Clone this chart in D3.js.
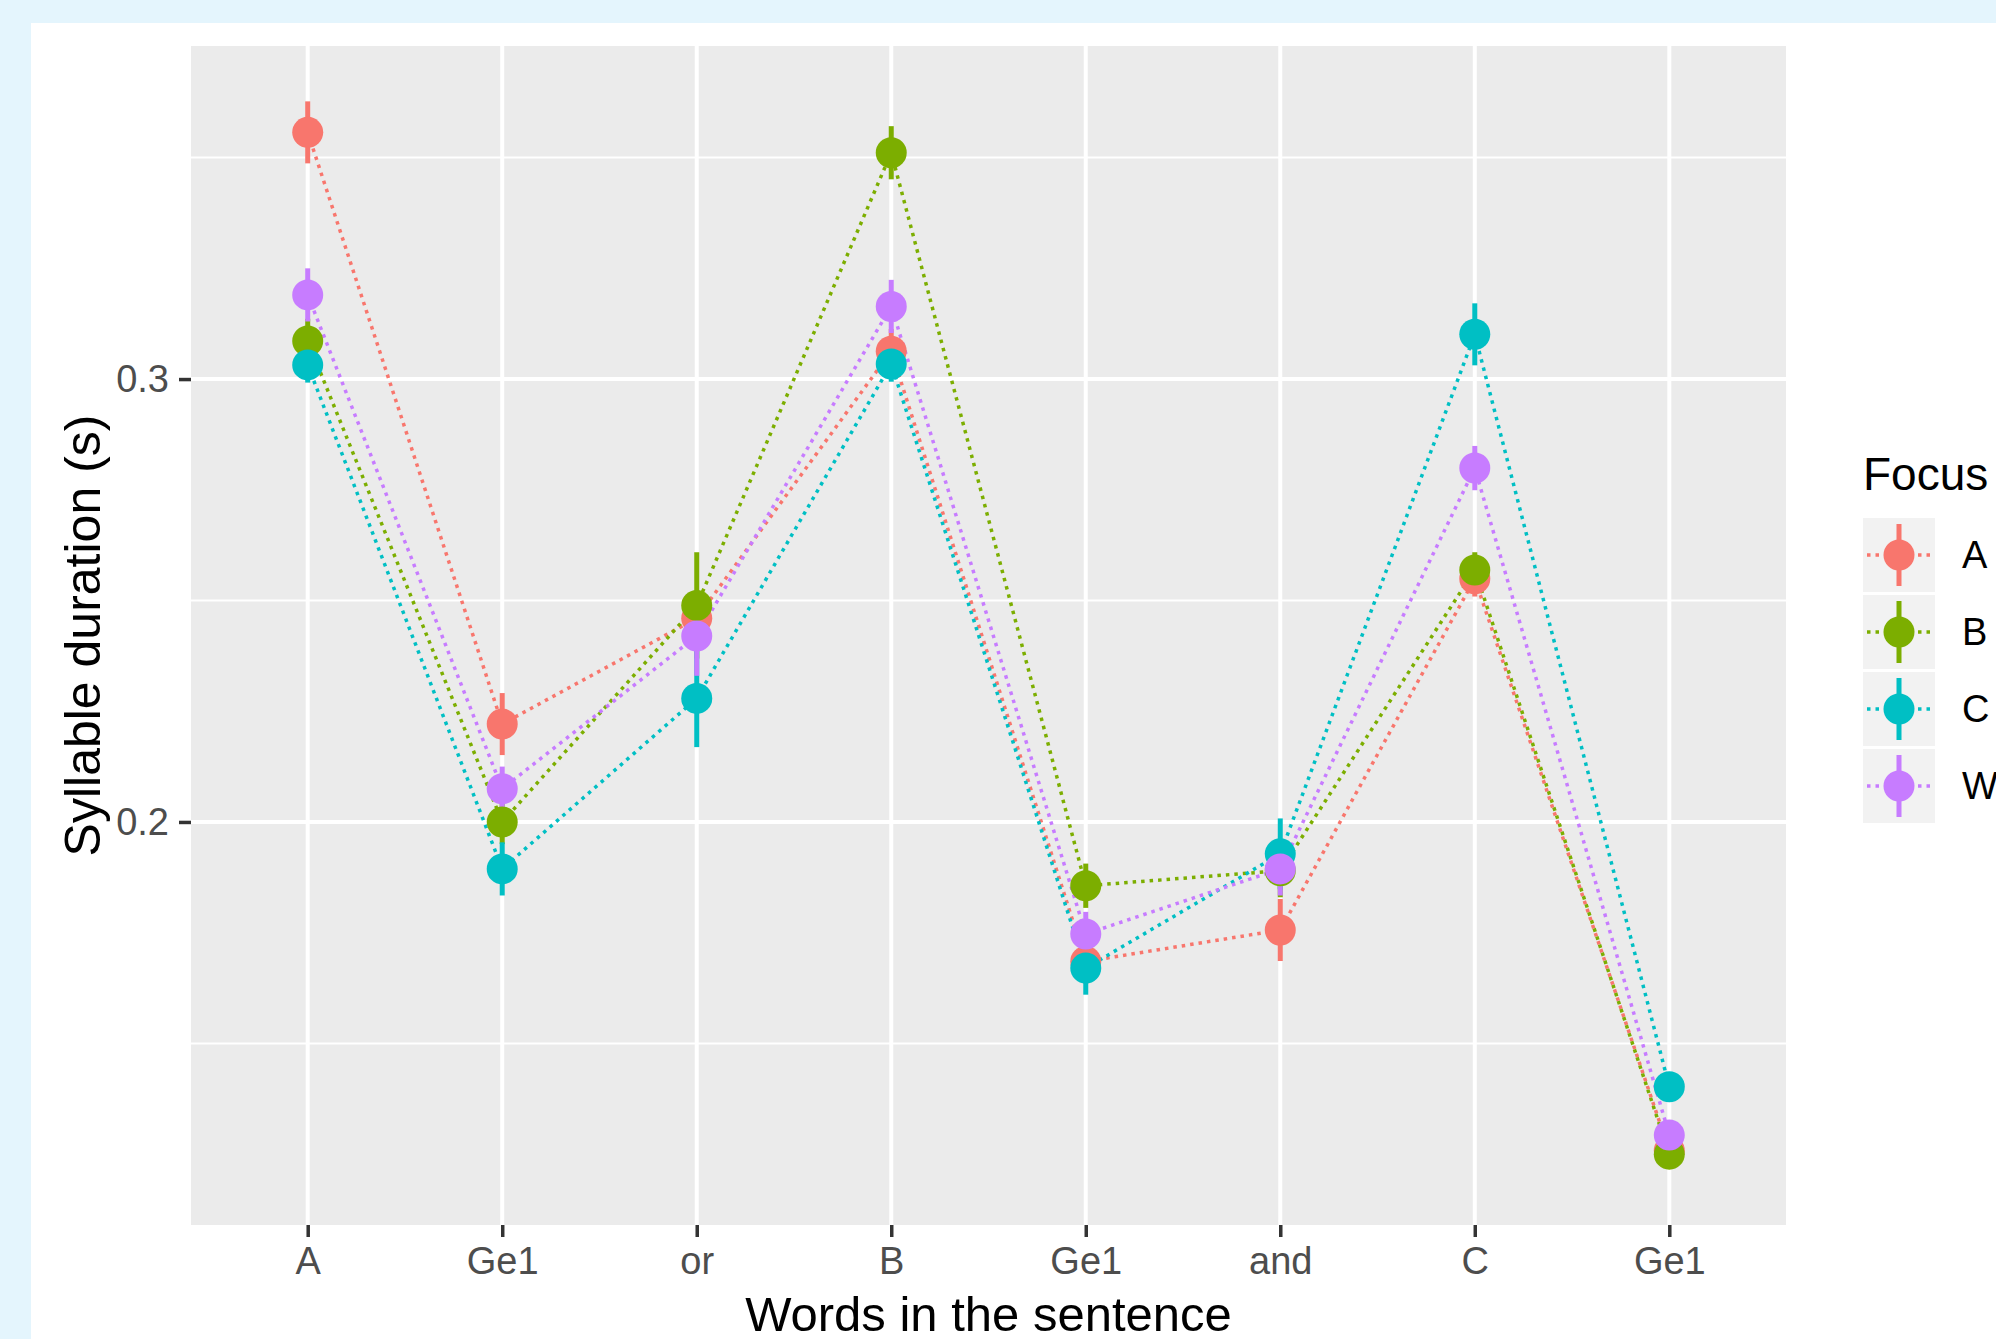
<!DOCTYPE html>
<html>
<head>
<meta charset="utf-8">
<script src="https://cdn.jsdelivr.net/npm/d3@7"></script>
<style>
  html, body { margin: 0; padding: 0; background: #e4f5fd; }
  svg { display: block; }
  text { font-family: "Liberation Sans", Arial, Helvetica, sans-serif; }
</style>
</head>
<body>
<svg id="chart" width="1996" height="1339"></svg>
<script>
// Words of the test sentence (x axis, in spoken order)
const words = ["A", "Ge1", "or", "B", "Ge1", "and", "C", "Ge1"];
// Focus conditions and their colours
const focusLevels = ["A", "B", "C", "W"];
const focusColors = ["#F8766D", "#7CAE00", "#00BFC4", "#C77CFF"];

// Mean syllable duration (s) per word, one array per focus condition
const durFocusA = [0.3557, 0.2221, 0.2460, 0.3063, 0.1685, 0.1756, 0.2549, 0.1258];
const durFocusB = [0.3086, 0.2000, 0.2489, 0.3511, 0.1856, 0.1890, 0.2569, 0.1250];
const durFocusC = [0.3032, 0.1894, 0.2279, 0.3034, 0.1670, 0.1928, 0.3101, 0.1402];
const durFocusW = [0.3190, 0.2075, 0.2420, 0.3164, 0.1747, 0.1894, 0.2799, 0.1293];

// Standard errors (half length of each error bar)
const seFocusA = [0.007, 0.007, 0.006, 0.005, 0.005, 0.007, 0.004, 0.003];
const seFocusB = [0.005, 0.005, 0.012, 0.006, 0.005, 0.006, 0.004, 0.003];
const seFocusC = [0.004, 0.006, 0.011, 0.004, 0.006, 0.008, 0.007, 0.003];
const seFocusW = [0.006, 0.005, 0.009, 0.006, 0.005, 0.006, 0.005, 0.003];

// Y axis ticks
const yMajorTicks = [0.2, 0.3];
const yMinorTicks = [0.15, 0.25, 0.35];

const means = [durFocusA, durFocusB, durFocusC, durFocusW];
const ses = [seFocusA, seFocusB, seFocusC, seFocusW];

const series = focusLevels.map((f, k) => ({
  focus: f,
  color: focusColors[k],
  points: words.map((w, i) => ({ i, mean: means[k][i], se: ses[k][i] }))
}));

const W = 1996, H = 1339;
const panel = { left: 191, right: 1786, top: 46, bottom: 1225 };
const dotted = "3.5 5";

const svg = d3.select("#chart");

// page card
svg.append("rect").attr("x", 0).attr("y", 0).attr("width", W).attr("height", H).attr("fill", "#e4f5fd");
svg.append("rect").attr("x", 31).attr("y", 23).attr("width", W - 31).attr("height", H - 23).attr("fill", "#ffffff");

const x = d3.scalePoint()
  .domain(d3.range(words.length))
  .range([panel.left, panel.right])
  .padding(0.6);

const y = d3.scaleLinear()
  .domain([0.109, 0.3752])
  .range([panel.bottom, panel.top]);

// panel background
svg.append("rect")
  .attr("x", panel.left).attr("y", panel.top)
  .attr("width", panel.right - panel.left).attr("height", panel.bottom - panel.top)
  .attr("fill", "#EBEBEB");

const grid = svg.append("g");
grid.selectAll("line.minor").data(yMinorTicks).join("line")
  .attr("class", "minor")
  .attr("x1", panel.left).attr("x2", panel.right)
  .attr("y1", d => y(d)).attr("y2", d => y(d))
  .attr("stroke", "#fff").attr("stroke-width", 2);
grid.selectAll("line.majory").data(yMajorTicks).join("line")
  .attr("class", "majory")
  .attr("x1", panel.left).attr("x2", panel.right)
  .attr("y1", d => y(d)).attr("y2", d => y(d))
  .attr("stroke", "#fff").attr("stroke-width", 4);
grid.selectAll("line.majorx").data(x.domain()).join("line")
  .attr("class", "majorx")
  .attr("x1", d => x(d)).attr("x2", d => x(d))
  .attr("y1", panel.top).attr("y2", panel.bottom)
  .attr("stroke", "#fff").attr("stroke-width", 4);

// axes
const yAxis = svg.append("g")
  .attr("transform", `translate(${panel.left},0)`)
  .call(d3.axisLeft(y).tickValues(yMajorTicks).tickFormat(d3.format(".1f")).tickSize(12).tickPadding(10));
const xAxis = svg.append("g")
  .attr("transform", `translate(0,${panel.bottom})`)
  .call(d3.axisBottom(x).tickFormat(i => words[i]).tickSize(12).tickPadding(10));
[xAxis, yAxis].forEach(a => {
  a.select(".domain").remove();
  a.selectAll(".tick line").attr("stroke", "#333333").attr("stroke-width", 3.5);
  a.selectAll(".tick text")
    .attr("fill", "#4D4D4D")
    .style("font-size", "38px")
    .style("font-family", "'Liberation Sans', Arial, sans-serif");
});

// dotted connecting lines
const line = d3.line().x(d => x(d.i)).y(d => y(d.mean));
svg.append("g").selectAll("path").data(series).join("path")
  .attr("d", s => line(s.points))
  .attr("fill", "none")
  .attr("stroke", s => s.color)
  .attr("stroke-width", 3.5)
  .attr("stroke-dasharray", dotted);

// error bars, then points
const ranges = svg.append("g");
series.forEach(s => {
  ranges.selectAll(null).data(s.points).join("line")
    .attr("x1", d => x(d.i)).attr("x2", d => x(d.i))
    .attr("y1", d => y(d.mean - d.se)).attr("y2", d => y(d.mean + d.se))
    .attr("stroke", s.color).attr("stroke-width", 5);
});
const pts = svg.append("g");
series.forEach(s => {
  pts.selectAll(null).data(s.points).join("circle")
    .attr("cx", d => x(d.i)).attr("cy", d => y(d.mean))
    .attr("r", 15.5)
    .attr("fill", s.color);
});

// axis titles
svg.append("text")
  .attr("x", (panel.left + panel.right) / 2).attr("y", 1331)
  .attr("text-anchor", "middle")
  .style("font-size", "49px").attr("fill", "#000")
  .text("Words in the sentence");
svg.append("text")
  .attr("transform", `translate(100,${(panel.top + panel.bottom) / 2}) rotate(-90)`)
  .attr("text-anchor", "middle")
  .style("font-size", "50px").attr("fill", "#000")
  .text("Syllable duration (s)");

// legend
const legend = svg.append("g");
legend.append("text")
  .attr("x", 1863).attr("y", 490)
  .style("font-size", "46px").attr("fill", "#000")
  .text("Focus");
const keyX = 1863, keyW = 72, keyH = 74, keyTop = 518, keyStep = 77;
const keys = legend.selectAll("g.key").data(series).join("g")
  .attr("class", "key")
  .attr("transform", (d, k) => `translate(${keyX},${keyTop + k * keyStep})`);
keys.append("rect").attr("width", keyW).attr("height", keyH).attr("fill", "#F2F2F2");
keys.append("line")
  .attr("x1", 4).attr("x2", keyW - 3).attr("y1", keyH / 2).attr("y2", keyH / 2)
  .attr("stroke", d => d.color).attr("stroke-width", 3.5).attr("stroke-dasharray", dotted);
keys.append("line")
  .attr("x1", 36).attr("x2", 36).attr("y1", 6).attr("y2", keyH - 6)
  .attr("stroke", d => d.color).attr("stroke-width", 5);
keys.append("circle")
  .attr("cx", 36).attr("cy", keyH / 2).attr("r", 15.5)
  .attr("fill", d => d.color);
keys.append("text")
  .attr("x", 99).attr("y", keyH / 2 + 13)
  .style("font-size", "38px").attr("fill", "#000")
  .text(d => d.focus);
</script>
</body>
</html>
